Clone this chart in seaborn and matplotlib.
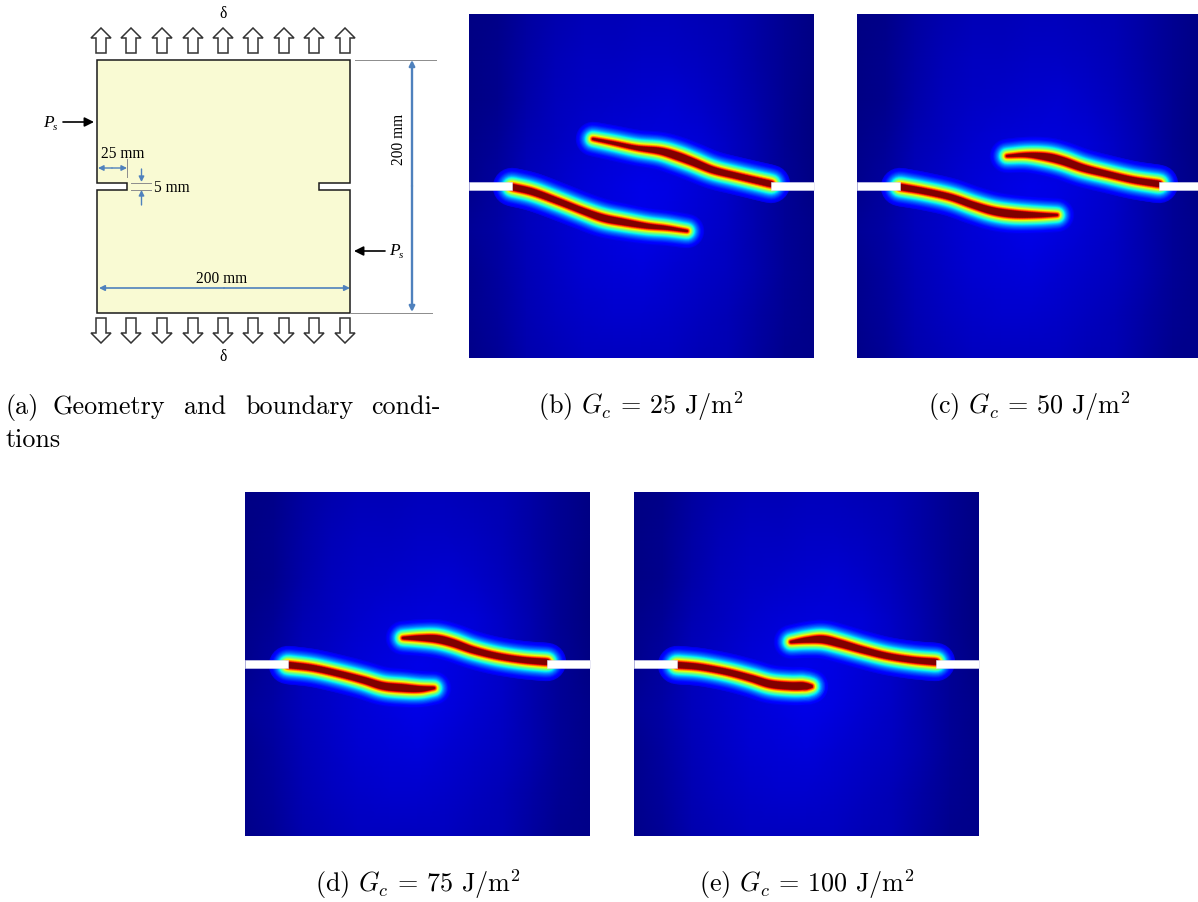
import numpy as np
import pandas as pd
import matplotlib
matplotlib.use("Agg")
import matplotlib.pyplot as plt
from matplotlib.collections import LineCollection
from matplotlib.patches import Rectangle
import seaborn as sns

W, H = 1198, 903
plt.rcParams['mathtext.fontset'] = 'cm'

# background field, sampled on a coarse grid (rows top to bottom, columns left to right)
BG = [
 [.005,.010,.030,.042,.048,.050,.052,.052,.050,.045,.035,.018,.005],
 [.005,.012,.034,.048,.055,.058,.060,.060,.056,.048,.035,.018,.005],
 [.005,.015,.038,.052,.060,.065,.070,.072,.066,.052,.036,.018,.003],
 [.008,.022,.045,.058,.068,.075,.080,.082,.075,.060,.040,.018,.003],
 [.015,.030,.052,.066,.075,.085,.092,.088,.078,.064,.042,.020,.005],
 [.020,.033,.052,.066,.075,.085,.090,.085,.072,.060,.042,.020,.008],
 [.015,.030,.048,.062,.072,.078,.080,.074,.066,.055,.040,.020,.008],
 [.012,.026,.045,.056,.065,.068,.068,.064,.058,.048,.035,.018,.008],
 [.010,.022,.040,.050,.056,.058,.058,.056,.050,.043,.030,.015,.008],
]

# panels: pixel frame, crack paths (x, y, core half width)
PANEL_B = (469, 14.5)
B_LOW_X = [512, 533, 560, 583, 603, 623, 647, 667, 687]
B_LOW_Y = [188, 193, 203, 212, 219, 223, 227, 229, 232]
B_LOW_C = [2.0, 2.0, 1.8, 1.8, 2.2, 2.0, 1.3, 0.7, 0.0]
B_UP_X = [593, 613, 637, 660, 677, 693, 713, 737, 771]
B_UP_Y = [140, 144, 149, 152, 157, 163, 171, 177, 185]
B_UP_C = [0.0, 0.5, 1.0, 2.0, 2.5, 2.3, 2.0, 1.8, 2.0]

PANEL_C = (857, 14.5)
C_LOW_X = [900, 923, 950, 973, 993, 1013, 1037, 1057]
C_LOW_Y = [188, 192, 198, 206, 212, 215, 216, 216]
C_LOW_C = [2.0, 1.8, 1.8, 2.0, 2.4, 2.4, 1.3, 0.0]
C_UP_X = [1007, 1027, 1047, 1063, 1083, 1107, 1133, 1159]
C_UP_Y = [157, 156, 158, 162, 169, 175, 181, 185]
C_UP_C = [0.0, 1.0, 2.4, 2.5, 2.2, 1.8, 1.8, 2.0]

PANEL_D = (245, 492.5)
D_LOW_X = [288, 313, 340, 363, 383, 403, 420, 434]
D_LOW_Y = [666, 669, 675, 681, 687, 689, 690, 689]
D_LOW_C = [2.0, 1.8, 1.8, 2.0, 2.4, 2.5, 1.7, 0.1]
D_UP_X = [403, 420, 437, 453, 473, 497, 523, 547]
D_UP_Y = [639, 639, 640, 644, 651, 657, 661, 663]
D_UP_C = [0.1, 1.5, 2.5, 2.4, 2.0, 1.8, 1.8, 2.0]

PANEL_E = (634, 492.5)
E_LOW_X = [677, 700, 727, 750, 770, 790, 803, 811]
E_LOW_Y = [666, 668, 673, 679, 685, 687, 687, 687]
E_LOW_C = [2.0, 1.8, 1.8, 2.0, 2.4, 2.5, 2.4, 0.5]
E_UP_X = [791, 807, 823, 840, 863, 887, 913, 936]
E_UP_Y = [643, 641, 640.5, 644.5, 651, 657, 661, 663]
E_UP_C = [0.1, 1.5, 2.5, 2.4, 2.0, 1.8, 1.8, 2.0]

PANEL_SIZE = 344.5
NOTCH_H = 8.5
NOTCH_Y = 182.5
ARROW_X = [101, 131, 162, 193, 223, 253, 284, 314, 345]
LEVELS = [.09, .10, .11, .12, .13, .14, .155, .17, .185, .20, .22, .24, .26, .28, .30, .32, .34,
          .36, .38, .40, .42, .44, .46, .48, .50, .52, .54, .56, .58, .60, .62, .64, .66, .68,
          .70, .72, .74, .76, .78, .80, .82, .84, .86, .88, .90, .92, .94, .96, .98, 1.0]

CAPTIONS = [(r"(b) $G_c$ = 25 J/m$^2$", 641, 414), (r"(c) $G_c$ = 50 J/m$^2$", 1029, 414),
            (r"(d) $G_c$ = 75 J/m$^2$", 418, 892), (r"(e) $G_c$ = 100 J/m$^2$", 807, 892)]
A_WORDS = [("(a)", 6), ("Geometry", 53), ("and", 184), ("boundary", 245), ("condi-", 371)]

BLUE, GREY = "#4f81bd", "#8c8c8c"
CREAM = "#f9fad3"
CAP_SIZE = 18.8

fig = plt.figure(figsize=(W / 100, H / 100), dpi=100)
cmap = plt.get_cmap("jet")


def frame(x, y, w, h):
    return [x / W, 1 - (y + h) / H, w / W, h / H]


for (px, py) in (PANEL_B, PANEL_C, PANEL_D, PANEL_E):
    ax = fig.add_axes(frame(px, py, PANEL_SIZE, PANEL_SIZE), zorder=0)
    df = pd.DataFrame(BG)
    sns.heatmap(df, ax=ax, cmap="jet", vmin=0, vmax=1, cbar=False, xticklabels=False,
                yticklabels=False, shading="gouraud", linewidths=0)
    ax.set_xlim(0, df.shape[1] - 1)
    ax.set_ylim(df.shape[0] - 1, 0)
    ax.set_axis_off()

ov = fig.add_axes([0, 0, 1, 1], zorder=1)
ov.set_xlim(0, W)
ov.set_ylim(H, 0)
ov.set_axis_off()
ov.patch.set_alpha(0)


def smooth(p, n=10):
    p = np.asarray(p, float)
    q = np.vstack([2 * p[0] - p[1], p, 2 * p[-1] - p[-2]])
    out = []
    for i in range(1, len(q) - 2):
        for t in np.linspace(0, 1, n, endpoint=False):
            a, b, c, d = q[i - 1], q[i], q[i + 1], q[i + 2]
            out.append(.5 * (2 * b + (c - a) * t + (2 * a - 5 * b + 4 * c - d) * t ** 2
                             + (3 * b - a - 3 * c + d) * t ** 3))
    out.append(p[-1])
    return np.array(out)


def crack(xs, ys, core):
    s = smooth(np.column_stack([xs, ys, core]))
    pts = s[:, :2]
    segs = np.stack([pts[:-1], pts[1:]], axis=1)
    cm = np.clip((s[:-1, 2] + s[1:, 2]) / 2, 0, None)
    for v in LEVELS:
        half = -6.9 * np.log(v) + cm + 0.6
        ov.add_collection(LineCollection(segs, colors=[cmap(v)], linewidths=2 * half * 0.72,
                                         capstyle="round", joinstyle="round", zorder=2))


for a in [(B_LOW_X, B_LOW_Y, B_LOW_C), (B_UP_X, B_UP_Y, B_UP_C),
          (C_LOW_X, C_LOW_Y, C_LOW_C), (C_UP_X, C_UP_Y, C_UP_C),
          (D_LOW_X, D_LOW_Y, D_LOW_C), (D_UP_X, D_UP_Y, D_UP_C),
          (E_LOW_X, E_LOW_Y, E_LOW_C), (E_UP_X, E_UP_Y, E_UP_C)]:
    crack(*a)

# white notches on top of the fields, with their thin pale rims
for (px, py), lx, rx in ((PANEL_B, B_LOW_X[0], B_UP_X[-1]), (PANEL_C, C_LOW_X[0], C_UP_X[-1]),
                         (PANEL_D, D_LOW_X[0], D_UP_X[-1]), (PANEL_E, E_LOW_X[0], E_UP_X[-1])):
    y0 = round(py - 14.5) + NOTCH_Y
    for xa, wa in ((px - 0.5, lx - px + 0.5), (rx, px + PANEL_SIZE - rx + 0.5)):
        ov.add_patch(Rectangle((xa, y0), wa, NOTCH_H, fc="white", ec="#d8d8ee", lw=0.4, zorder=3))

# panel (a): specimen outline
SPEC_X = [97, 350, 350, 319, 319, 350, 350, 97, 97, 127, 127, 97, 97]
SPEC_Y = [60.5, 60.5, 183.5, 183.5, 190.5, 190.5, 313.5, 313.5, 190.5, 190.5, 183.5, 183.5, 60.5]
ov.fill(SPEC_X, SPEC_Y, fc=CREAM, ec="#1a1a1a", lw=1.1, zorder=2, joinstyle="miter")

for x in ARROW_X:
    ov.fill([x - 5, x - 5, x - 10, x, x + 10, x + 5, x + 5], [54, 39, 39, 29, 39, 39, 54],
            fc="white", ec="#333333", lw=1.1, zorder=2)
    ov.fill([x - 5, x - 5, x - 10, x, x + 10, x + 5, x + 5], [319, 334, 334, 344, 334, 334, 319],
            fc="white", ec="#333333", lw=1.1, zorder=2)

for x0, x1, y0, y1 in [(355, 436, 60.5, 60.5), (350, 432, 313.5, 313.5), (127, 127, 160, 178),
                       (131, 151, 183.5, 183.5), (131, 151, 190.5, 190.5)]:
    sns.lineplot(x=[x0, x1], y=[y0, y1], ax=ov, color=GREY, lw=0.7, estimator=None, sort=False,
                 legend=False, zorder=3)


def arrow(x0, y0, x1, y1, color=BLUE, lw=1.2, ms=8):
    ov.annotate("", xy=(x1, y1), xytext=(x0, y0), zorder=4,
                arrowprops=dict(arrowstyle="-|>", color=color, lw=lw, mutation_scale=ms,
                                shrinkA=0, shrinkB=0))


arrow(412, 187, 412, 61, lw=1.7)
arrow(412, 187, 412, 313, lw=1.7)
arrow(224, 289, 99, 289)
arrow(224, 289, 350, 289)
arrow(112, 169, 98, 169, lw=1.0)
arrow(112, 169, 127, 169, lw=1.0)
arrow(141.5, 170, 141.5, 183, lw=1.0)
arrow(141.5, 206, 141.5, 191, lw=1.0)
arrow(63, 123, 94, 123, color="black", lw=1.2, ms=14)
arrow(385, 252, 354, 252, color="black", lw=1.2, ms=14)

SERIF = "Liberation Serif"
for s, x, y, kw in [("\u03b4", 223, 14, {}), ("\u03b4", 223, 357, {}), ("200 mm", 222, 279, {}),
                    ("25 mm", 123, 154, {}), ("5 mm", 172, 188, {}),
                    ("200 mm", 399, 139, {"rotation": 90})]:
    ov.text(x, y, s, family=SERIF, fontsize=11.2, ha="center", va="center", zorder=5, **kw)
for x, y in [(48, 123), (394, 251)]:
    ov.text(x, y, "P", family=SERIF, style="italic", fontsize=12.5, ha="center", va="center", zorder=5)
    ov.text(x + 7, y + 5, "s", family=SERIF, style="italic", fontsize=8, ha="center", va="center", zorder=5)

# captions
for s, x, y in CAPTIONS:
    ov.text(x, y, s, family="cmr10", fontsize=CAP_SIZE, ha="center", va="baseline", zorder=5)
for s, x in A_WORDS:
    ov.text(x, 414, s, family="cmr10", fontsize=CAP_SIZE, ha="left", va="baseline", zorder=5)
ov.text(6, 447, "tions", family="cmr10", fontsize=CAP_SIZE, ha="left", va="baseline", zorder=5)

fig.savefig("out.png", dpi=100)
